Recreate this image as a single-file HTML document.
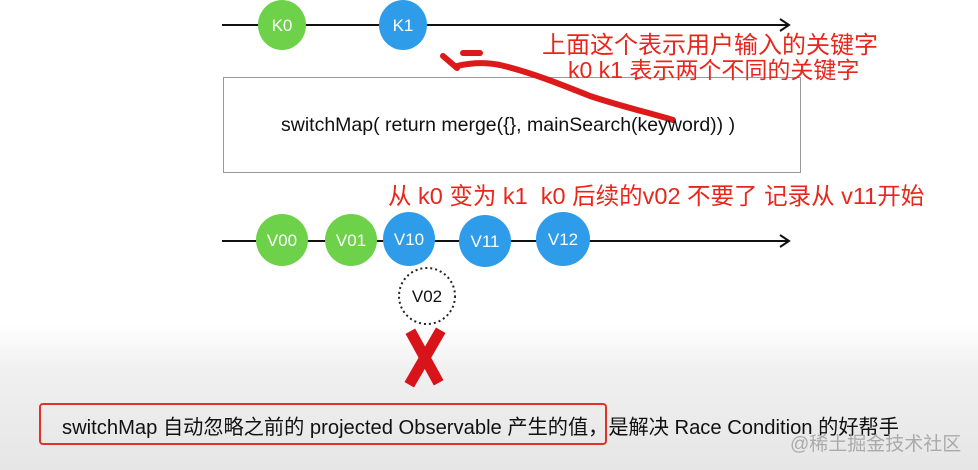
<!DOCTYPE html>
<html><head><meta charset="utf-8"><style>
body{margin:0;width:978px;height:470px;overflow:hidden;font-family:"Liberation Sans","Noto Sans CJK SC",sans-serif;background:linear-gradient(#fff 0,#fff 325px,#f0f0f0 370px,#e6e6e6 470px);position:relative}
.t{position:absolute;white-space:nowrap}
</style></head><body>
<svg width="978" height="470" style="position:absolute;left:0;top:0">
<g stroke="#111" stroke-width="2" fill="none">
<line x1="222" y1="25" x2="788" y2="25"/><polyline points="780,19 789,25 780,31"/>
<line x1="222" y1="241" x2="788" y2="241"/><polyline points="780,235 789,241 780,247"/>
</g>
<rect x="223.5" y="77.5" width="577" height="95" fill="#fff" stroke="#999"/>
<g font-family="Liberation Sans" font-size="17" fill="#fff" text-anchor="middle">
<ellipse cx="282" cy="25" rx="24" ry="25" fill="#6ed14a"/><text x="282" y="31">K0</text>
<ellipse cx="403" cy="25" rx="24" ry="25" fill="#2f9cea"/><text x="403" y="31">K1</text>
<ellipse cx="282" cy="240" rx="26" ry="26" fill="#6ed14a"/><text x="282" y="246">V00</text>
<ellipse cx="351" cy="240" rx="26" ry="26" fill="#6ed14a"/><text x="351" y="246">V01</text>
<ellipse cx="409" cy="239" rx="26" ry="27" fill="#2f9cea"/><text x="409" y="245">V10</text>
<ellipse cx="485" cy="241" rx="26" ry="26" fill="#2f9cea"/><text x="485" y="247">V11</text>
<ellipse cx="563" cy="239" rx="27" ry="27" fill="#2f9cea"/><text x="563" y="245">V12</text>
<ellipse cx="427" cy="296" rx="28" ry="28" fill="#fff" stroke="#222" stroke-width="2" stroke-dasharray="2,3"/><text x="427" y="302" fill="#111">V02</text>
</g>
<g stroke="#dd1a1a" stroke-width="6" stroke-linecap="round" fill="none">
<path d="M673 120 C650 113 620 106 590 96 C560 84 530 72 500 65 C485 62 470 63 457 66"/>
<path d="M457 68 L443 56"/>
<path d="M463 53 L480 53"/>
</g>
<g stroke="#d8141a" stroke-width="11" stroke-linecap="square">
<line x1="438" y1="335" x2="412" y2="380"/><line x1="413" y1="336" x2="436" y2="378"/>
</g>
<rect x="40" y="404" width="566" height="40" rx="3" fill="none" stroke="#e0322a" stroke-width="2"/>
</svg>
<div class="t" style="left:542px;top:25px;font-size:24px;color:#e8261c">上面这个表示用户输入的关键字</div>
<div class="t" style="left:568px;top:51px;font-size:23px;color:#e8261c">k0 k1 表示两个不同的关键字</div>
<div class="t" style="left:281px;top:114px;font-size:19.5px;color:#111">switchMap( return merge({}, mainSearch(keyword)) )</div>
<div class="t" style="left:388px;top:177px;font-size:23.5px;color:#e8261c">从 k0 变为 k1&nbsp; k0 后续的v02 不要了 记录从 v11开始</div>
<div class="t" style="left:62px;top:411px;font-size:20.2px;color:#111">switchMap 自动忽略之前的 projected Observable 产生的值，是解决 Race Condition 的好帮手</div>
<div class="t" style="left:790px;top:429px;font-size:19px;color:#aaa">@稀土掘金技术社区</div>
</body></html>
